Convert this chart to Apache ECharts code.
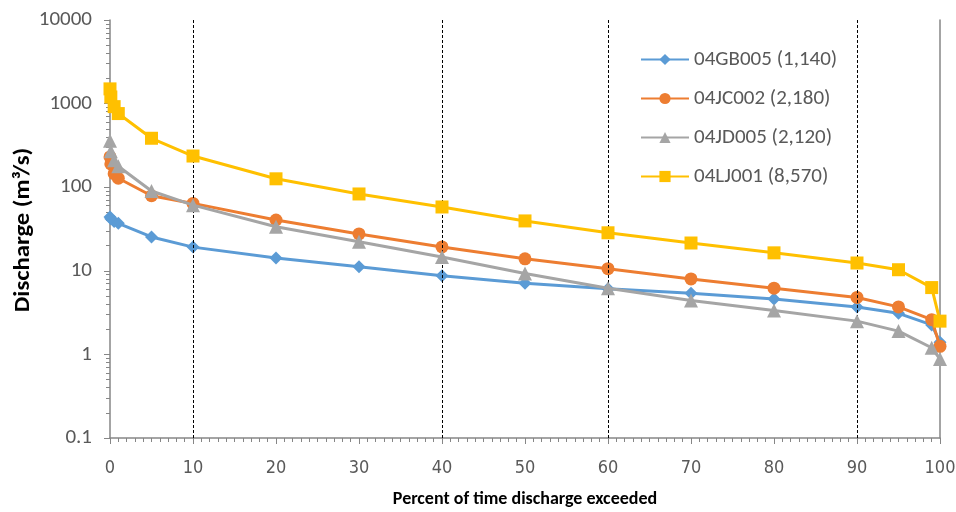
<!DOCTYPE html>
<html>
<head>
<meta charset="utf-8">
<script src="https://cdn.jsdelivr.net/npm/echarts@6/dist/echarts.min.js"></script>
<style>html,body{margin:0;padding:0;background:#fff}#c{width:956px;height:512px}</style>
</head>
<body>
<div id="c"></div>
<script>
const percents = [0, 0.1, 0.5, 1, 5, 10, 20, 30, 40, 50, 60, 70, 80, 90, 95, 99, 100];
const seriesNames = ['04GB005 (1,140)', '04JC002 (2,180)', '04JD005 (2,120)', '04LJ001 (8,570)'];
const gb005 = [44, 42, 39, 37, 25.4, 19.2, 14.2, 11.2, 8.7, 7.1, 6.1, 5.4, 4.6, 3.7, 3.1, 2.25, 1.4];
const jc002 = [230, 190, 145, 128, 79, 64, 40.5, 27.6, 19.3, 13.9, 10.6, 8.0, 6.2, 4.8, 3.7, 2.6, 1.25];
const jd005 = [360, 270, 210, 178, 90, 61, 33.6, 22.2, 14.6, 9.3, 6.2, 4.4, 3.35, 2.5, 1.9, 1.2, 0.88];
const lj001 = [1500, 1200, 920, 760, 385, 236, 126, 83, 58, 39.5, 28.5, 21.5, 16.4, 12.4, 10.3, 6.3, 2.5];
const dashedLines = [10, 40, 60, 90];
const yTitle = 'Discharge (m³/s)';
const xTitle = 'Percent of time discharge exceeded';

const colors = ['#5B9BD5', '#ED7D31', '#A5A5A5', '#FFC000'];
const symbols = ['diamond', 'circle', 'triangle', 'rect'];
const symbolSizes = [13, 13, 14, 13];
const allData = [gb005, jc002, jd005, lj001];
const font = "Carlito, Lato, 'Noto Sans', sans-serif";
const narrowFont = "'Liberation Sans Narrow', 'DejaVu Sans Condensed', Carlito, sans-serif";

const series = allData.map((vals, i) => ({
  name: seriesNames[i],
  type: 'line',
  data: percents.map((p, j) => [p, vals[j]]),
  symbol: symbols[i],
  symbolSize: symbolSizes[i],
  showAllSymbol: true,
  lineStyle: { color: colors[i], width: 3 },
  itemStyle: { color: colors[i] },
  z: 3 + i,
  markLine: i === 0 ? {
    silent: true,
    symbol: 'none',
    label: { show: false },
    lineStyle: { color: '#000', type: [3, 2], width: 1 },
    data: dashedLines.map(v => ({ xAxis: v }))
  } : undefined
}));

const chart = echarts.init(document.getElementById('c'));
chart.setOption({
  animation: false,
  backgroundColor: '#fff',
  color: colors,
  grid: { left: 110, right: 16, top: 20, bottom: 74, containLabel: false, outerBoundsMode: 'none' },
  legend: {
    orient: 'vertical',
    left: 635,
    top: 44,
    itemWidth: 48,
    itemHeight: 14,
    itemGap: 18,
    textStyle: { fontSize: 21, lineHeight: 21, color: '#595959', fontFamily: font },
    data: seriesNames
  },
  graphic: [{
    type: 'text',
    x: 23,
    y: 230,
    rotation: Math.PI / 2,
    scaleX: 1.12,
    silent: true,
    style: {
      text: yTitle,
      font: 'bold 22px ' + font,
      fill: '#000',
      textAlign: 'center',
      textVerticalAlign: 'middle'
    }
  }],
  xAxis: {
    type: 'value',
    min: 0,
    max: 100,
    interval: 10,
    name: xTitle,
    nameLocation: 'middle',
    nameGap: 52,
    nameTextStyle: { fontSize: 18, fontWeight: 'bold', color: '#000', fontFamily: font },
    axisLine: { show: true, lineStyle: { color: '#868686', width: 1.5 } },
    axisTick: { show: true, inside: false, length: 6, lineStyle: { color: '#868686' } },
    minorTick: { show: true, splitNumber: 10, length: 4, lineStyle: { color: '#868686' } },
    axisLabel: { fontSize: 18, color: '#595959', margin: 21, fontFamily: narrowFont },
    splitLine: { show: false }
  },
  yAxis: [{
    type: 'log',
    logBase: 10,
    min: 0.1,
    max: 10000,
    axisLine: { show: true, lineStyle: { color: '#868686', width: 1.5 } },
    axisTick: { show: true, inside: false, length: 6, lineStyle: { color: '#868686' } },
    minorTick: { show: true, splitNumber: 9, length: 4, lineStyle: { color: '#868686' } },
    axisLabel: { fontSize: 21, color: '#595959', margin: 18, fontFamily: font,
      formatter: v => String(v) },
    splitLine: { show: false }
  }, {
    type: 'log',
    logBase: 10,
    min: 0.1,
    max: 10000,
    position: 'right',
    axisLine: { show: true, lineStyle: { color: '#868686', width: 1.5 } },
    axisTick: { show: false },
    axisLabel: { show: false },
    splitLine: { show: false }
  }],
  series: series
});
</script>
</body>
</html>
